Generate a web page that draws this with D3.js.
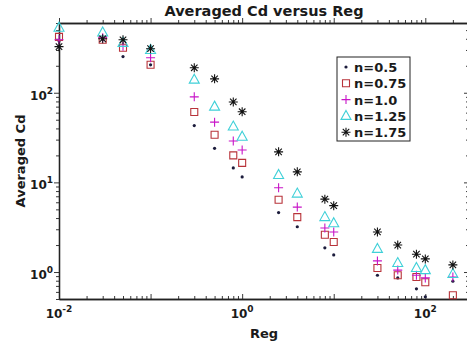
<!DOCTYPE html>
<html>
<head>
<meta charset="utf-8">
<script src="https://cdn.jsdelivr.net/npm/d3@7"></script>
<style>
  body { margin: 0; background: #fff; }
  svg { display: block; font-family: 'DejaVu Sans', sans-serif; }
  .lbl { font-weight: bold; fill: #1a1a1a; }
</style>
</head>
<body>
<svg id="chart" width="467" height="349"></svg>
<script>
// Reg values (x) shared by every series
const reg = [0.01, 0.03, 0.05, 0.1, 0.3, 0.5, 0.8, 1, 2.5, 4, 8, 10, 30, 50, 80, 100, 200]

// averaged Cd for each n
const cdN050 = [380, 395, 253, 205, 43, 24, 14.5, 11.5, 4.6, 3.2, 1.86, 1.55, 0.92, 0.86, 0.65, 0.53, 0.79]
const cdN075 = [420, 390, 318, 205, 61, 34, 20, 16.5, 6.4, 4.1, 2.6, 2.16, 1.11, 0.92, 0.88, 0.77, 0.55]
const cdN100 = [390, 410, 330, 246, 90, 47, 29, 23, 8.7, 5.3, 3.1, 2.8, 1.33, 1.05, 0.92, 0.86, 0.88]
const cdN125 = [532, 470, 360, 300, 140, 70, 42, 32.3, 12.1, 7.5, 4.1, 3.5, 1.81, 1.26, 1.11, 1.05, 0.95]
const cdN175 = [327, 400, 390, 310, 190, 143, 79, 61.4, 21.9, 13.1, 6.5, 5.5, 2.8, 2.0, 1.58, 1.4, 1.2]

const seriesNames = ['n=0.5', 'n=0.75', 'n=1.0', 'n=1.25', 'n=1.75']
const xMajor = [0.01, 0.1, 1, 10, 100]
const xLabelled = [-2, 0, 2]
const yMajor = [1, 10, 100]
const yLabelled = [0, 1, 2]

const series = [
  { name: seriesNames[0], values: cdN050, marker: 'dot', color: '#1c1c3c' },
  { name: seriesNames[1], values: cdN075, marker: 'square', color: '#b8333a' },
  { name: seriesNames[2], values: cdN100, marker: 'plus', color: '#c815c8' },
  { name: seriesNames[3], values: cdN125, marker: 'triangle', color: '#3fd0d8' },
  { name: seriesNames[4], values: cdN175, marker: 'star', color: '#111111' },
]

const margin = { top: 23, right: -2, bottom: 50, left: 59 }
const W = 467, H = 349
const svg = d3.select('#chart')

let x = d3.scaleLog().domain([0.01, 300]).range([margin.left, W - margin.right])
let y = d3.scaleLog().domain([0.5, 600]).range([H - margin.bottom, margin.top])

// minor ticks of a log scale: 1..9 times each decade
const logTicks = (scale) => {
  let [a, b] = scale.domain()
  let out = []
  for (let e = Math.floor(Math.log10(a)); e <= Math.ceil(Math.log10(b)); e++) {
    for (let k = 1; k < 10; k++) {
      let v = k * Math.pow(10, e)
      if (v >= a * 0.999 && v <= b * 1.001) out.push(v)
    }
  }
  return out
}

const markerPath = (type, s) => {
  let h = s / 2
  if (type === 'square') return `M${-h},${-h}H${h}V${h}H${-h}Z`
  if (type === 'plus') return `M${-h},0H${h}M0,${-h}V${h}`
  if (type === 'triangle') return `M0,${-h - 1}L${h + 0.5},${h - 1}L${-h - 0.5},${h - 1}Z`
  if (type === 'star') {
    let d = h * 0.72
    return `M${-h},0H${h}M0,${-h}V${h}M${-d},${-d}L${d},${d}M${-d},${d}L${d},${-d}`
  }
  return ''
}
const markerSize = { square: 7, plus: 9, triangle: 9, star: 9 }

const drawMarker = (g, m, cx, cy, color) => {
  if (m === 'dot') {
    g.append('circle').attr('cx', cx).attr('cy', cy).attr('r', 1.6).attr('fill', color)
  } else {
    g.append('path')
      .attr('d', markerPath(m, markerSize[m]))
      .attr('transform', `translate(${cx},${cy})`)
      .attr('fill', 'none')
      .attr('stroke', color)
      .attr('stroke-width', 1.1)
  }
}

// axes: ticks point inward on all four sides
const axisColor = '#222'
const addAxis = (axisFn, scale, ticks, size, tx, ty) => {
  let g = svg.append('g')
    .attr('transform', `translate(${tx},${ty})`)
    .call(axisFn(scale).tickValues(ticks).tickSizeInner(-size).tickSizeOuter(0).tickFormat(''))
  g.select('.domain').attr('stroke', axisColor).attr('stroke-width', 1.3)
  g.selectAll('.tick line').attr('stroke', axisColor).attr('stroke-width', 0.9)
  return g
}

let xMinor = logTicks(x).filter((v) => !xMajor.includes(v))
let yMinor = logTicks(y).filter((v) => !yMajor.includes(v))
let y0 = H - margin.bottom, y1 = margin.top
let x0 = margin.left, x1 = W - margin.right

addAxis(d3.axisBottom, x, xMinor, 3, 0, y0)
addAxis(d3.axisBottom, x, xMajor, 5, 0, y0)
addAxis(d3.axisTop, x, xMinor, -3, 0, y1)
addAxis(d3.axisTop, x, xMajor, -5, 0, y1)
addAxis(d3.axisLeft, y, yMinor, -3, x0, 0)
addAxis(d3.axisLeft, y, yMajor, -5, x0, 0)
addAxis(d3.axisRight, y, yMinor, 3, x1, 0)
addAxis(d3.axisRight, y, yMajor, 5, x1, 0)

// tick labels as 10^e
const powLabel = (tx, ty, e, anchor) => {
  let t = svg.append('text').attr('class', 'lbl').attr('x', tx).attr('y', ty)
    .attr('text-anchor', anchor).style('font-size', '12px')
  t.append('tspan').text('10')
  t.append('tspan').attr('dy', -6).style('font-size', '9px').text(e)
}
xLabelled.forEach((e) => powLabel(x(Math.pow(10, e)), y0 + 19, e, 'middle'))
yLabelled.forEach((e) => powLabel(x0 - 6, y(Math.pow(10, e)) + 7, e, 'end'))

svg.append('text').attr('class', 'lbl')
  .attr('x', (x0 + x1) / 2).attr('y', 16)
  .attr('text-anchor', 'middle').style('font-size', '14.5px')
  .text('Averaged Cd versus Reg')

svg.append('text').attr('class', 'lbl')
  .attr('x', (x0 + x1) / 2).attr('y', 338)
  .attr('text-anchor', 'middle').style('font-size', '13px')
  .text('Reg')

svg.append('text').attr('class', 'lbl')
  .attr('transform', `translate(25,${(y0 + y1) / 2})rotate(-90)`)
  .attr('text-anchor', 'middle').style('font-size', '13px')
  .text('Averaged Cd')

// data marks
let plot = svg.append('g')
series.forEach((s) => {
  let g = plot.append('g').attr('class', 'series')
  s.values.forEach((v, i) => drawMarker(g, s.marker, x(reg[i]), y(v), s.color))
})

// legend
let lg = svg.append('g').attr('transform', 'translate(337,57)')
lg.append('rect').attr('width', 73).attr('height', 84)
  .attr('fill', '#fff').attr('stroke', '#222').attr('stroke-width', 1)
series.forEach((s, i) => {
  let cy = 10 + i * 16.3
  drawMarker(lg, s.marker, 9, cy, s.color)
  lg.append('text').attr('class', 'lbl')
    .attr('x', 17).attr('y', cy + 5)
    .style('font-size', '13px')
    .text(s.name)
})
</script>
</body>
</html>
